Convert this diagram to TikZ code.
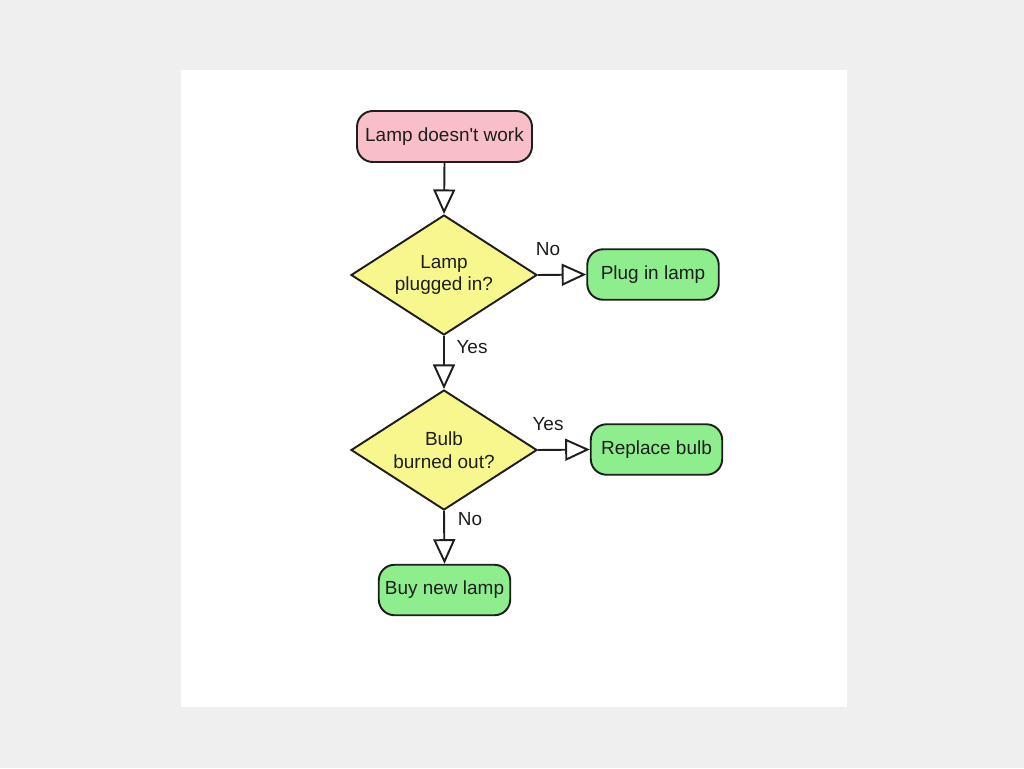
\documentclass[tikz,border=0pt]{standalone}
\usepackage{fontspec}
\setmainfont{Liberation Sans}
\usetikzlibrary{shapes.geometric, arrows.meta}

\definecolor{pagegray}{HTML}{EFEFEF}
\definecolor{startpink}{HTML}{F9BFC8}
\definecolor{askyellow}{HTML}{F7F78E}
\definecolor{endgreen}{HTML}{8EEE8E}
\definecolor{inkgray}{HTML}{1E1E1E}

\tikzset{
  box/.style={draw=inkgray, rounded corners=9pt, line width=1.1pt, text=inkgray,
    font=\fontsize{10.8}{13}\selectfont, inner sep=0pt},
  startbox/.style={box, fill=startpink, minimum width=3.5cm, minimum height=1.02cm},
  endbox/.style={box, fill=endgreen, minimum width=2.63cm, minimum height=1.01cm},
  ask/.style={diamond, draw=inkgray, fill=askyellow, line width=1.1pt, text=inkgray,
    font=\fontsize{10.8}{13}\selectfont, align=center, inner sep=0pt, aspect=1.55,
    minimum width=3.72cm, minimum height=2.4cm},
  flow/.style={-{Triangle[open, length=14pt, width=12.5pt]}, line width=1.1pt, draw=inkgray},
  lbl/.style={text=inkgray, font=\fontsize{10.8}{13}\selectfont, inner sep=0pt},
}

\begin{document}
\begin{tikzpicture}[x=0.02cm, y=-0.02cm]
  \fill[pagegray] (0,0) rectangle (1024,768);
  \fill[white] (181,70) rectangle (847,707);

  \node[startbox] (lamp) at (444.5,136.5) {Lamp doesn\textquotesingle t work};
  \node[ask] (plugged) at (444,275) {Lamp\\plugged in?};
  \node[endbox] (plugin) at (653,274.5) {Plug in lamp};
  \node[ask] (burned) at (444,450) {Bulb\\burned out?};
  \node[endbox] (replace) at (656.5,449.5) {Replace bulb};
  \node[endbox] (buy) at (444.5,590) {Buy new lamp};

  \draw[flow] (lamp.south) -- (plugged.north);
  \draw[flow] (plugged.east) -- (plugin.west);
  \draw[flow] (plugged.south) -- (burned.north);
  \draw[flow] (burned.east) -- (replace.west);
  \draw[flow] (burned.south) -- (buy.north);

  \node[lbl] (nopl) at (548,249) {No};
  \node[lbl] (yespl) at (472,347) {Yes};
  \node[lbl] (yesbu) at (548,424) {Yes};
  \node[lbl] (nobu) at (470,519) {No};
\end{tikzpicture}
\end{document}
